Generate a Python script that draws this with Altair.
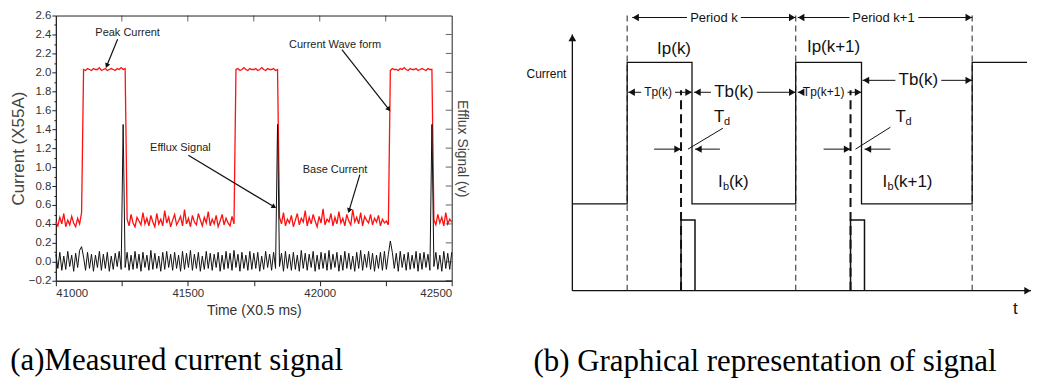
import math
import altair as alt
import pandas as pd

# ---------------- panel (a): measured signal ----------------
t_start = 41000
t_step = 7.5
red_current = [
    0.42, 0.38, 0.47, 0.40, 0.51, 0.37, 0.44, 0.39, 0.48, 0.41, 0.37, 0.46, 0.40, 0.52,
    2.03, 2.02, 2.04, 2.03, 2.02, 2.04, 2.03, 2.03, 2.05, 2.02, 2.03, 2.04, 2.02, 2.03,
    2.04, 2.03, 2.02, 2.04, 2.03, 2.05, 2.03, 2.04,
    0.45, 0.38, 0.50, 0.41, 0.37, 0.47, 0.43, 0.39, 0.52, 0.40,
    0.46, 0.38, 0.49, 0.42, 0.37, 0.51, 0.40, 0.45, 0.38, 0.54,
    0.41, 0.47, 0.37, 0.44, 0.50, 0.39, 0.43, 0.48, 0.38, 0.55,
    0.40, 0.46, 0.37, 0.49, 0.42, 0.39, 0.51, 0.44, 0.38, 0.47,
    0.41, 0.53, 0.38, 0.45, 0.40, 0.49, 0.37, 0.43, 0.50, 0.39,
    0.46, 0.41, 0.38, 0.48, 0.40,
    2.03, 2.04, 2.02, 2.03, 2.05, 2.03, 2.02, 2.04, 2.03, 2.03, 2.04,
    2.02, 2.03, 2.05, 2.03, 2.02, 2.04, 2.03, 2.03, 2.04, 2.02, 2.03,
    0.47, 0.40, 0.52, 0.38, 0.45, 0.41, 0.49, 0.37, 0.44, 0.51,
    0.39, 0.46, 0.42, 0.54, 0.38, 0.47, 0.40, 0.50, 0.43, 0.37,
    0.48, 0.41, 0.56, 0.39, 0.45, 0.42, 0.51, 0.38, 0.47, 0.40,
    0.53, 0.41, 0.46, 0.38, 0.50, 0.43, 0.39, 0.55, 0.42, 0.47,
    0.40, 0.52, 0.38, 0.48, 0.44, 0.41, 0.50, 0.39, 0.46, 0.42,
    0.49, 0.38, 0.45, 0.41, 0.43, 0.39,
    2.02, 2.04, 2.03, 2.03, 2.02, 2.04, 2.03, 2.05, 2.03, 2.02, 2.04,
    2.03, 2.03, 2.04, 2.02, 2.03, 2.04, 2.03, 2.02, 2.04, 2.03, 2.03,
    0.44, 0.39, 0.50, 0.41, 0.47, 0.38, 0.52, 0.40, 0.45, 0.42,
]
black_efflux = [
    0.08, -0.07, 0.10, -0.09, 0.06, -0.08, 0.11, -0.05, 0.07, -0.10, 0.09, -0.06, 0.12, 0.16, 0.05, -0.09, 0.10, -0.07, 0.08, -0.10,
    0.07, -0.06, 0.11, -0.09, 0.08, -0.07, 0.10, -0.10, 0.06, -0.08, 0.09, -0.05, 0.11, -0.08, 1.45, -0.06, 0.10, -0.09, 0.07, -0.08,
    0.11, -0.07, 0.08, -0.10, 0.10, -0.06, 0.07, -0.09, 0.12, -0.08, 0.09, -0.07, 0.06, -0.10, 0.10, -0.08, 0.11, -0.06, 0.08, -0.09,
    0.10, -0.07, 0.07, -0.10, 0.11, -0.08, 0.09, -0.06, 0.12, -0.09, 0.08, -0.07, 0.10, -0.10, 0.06, -0.08, 0.11, -0.07, 0.09, -0.09,
    0.08, -0.06, 0.10, -0.10, 0.07, -0.08, 0.11, -0.07, 0.09, -0.09, 0.12, -0.06, 0.08, -0.10, 0.10, -0.07, 0.07, -0.09, 0.11, -0.08,
    0.09, -0.07, 0.10, -0.10, 0.06, -0.08, 0.11, -0.06, 0.08, -0.09, 0.10, -0.07, 1.45, -0.05, 0.09, -0.10, 0.11, -0.07, 0.08, -0.09,
    0.10, -0.08, 0.07, -0.10, 0.12, -0.07, 0.09, -0.09, 0.08, -0.06, 0.11, -0.10, 0.07, -0.08, 0.10, -0.07, 0.09, -0.09, 0.12, -0.08,
    0.08, -0.06, 0.10, -0.10, 0.07, -0.09, 0.11, -0.07, 0.09, -0.08, 0.06, -0.10, 0.10, -0.07, 0.12, -0.09, 0.08, -0.06, 0.11, -0.08,
    0.09, -0.10, 0.07, -0.07, 0.10, -0.09, 0.11, -0.08, 0.08, 0.22, 0.10, -0.07, 0.09, -0.10, 0.11, -0.06, 0.08, -0.09, 0.10, -0.08,
    0.07, -0.07, 0.11, -0.10, 0.09, -0.08, 0.10, -0.06, 0.08, -0.09, 1.45, -0.05, 0.10, -0.08, 0.07, -0.10, 0.11, -0.07, 0.09, -0.08,
    0.10,
]
time = [t_start + t_step * i for i in range(len(red_current))]

x_ticks = [41000, 41250, 41500, 41750, 42000, 42250, 42500]
top_ticks = [41250, 41500, 41750, 42000, 42250]
y_ticks = [-0.2, -0.1, 0.0, 0.1, 0.2, 0.3, 0.4, 0.5, 0.6, 0.7, 0.8, 0.9, 1.0, 1.1, 1.2,
           1.3, 1.4, 1.5, 1.6, 1.7, 1.8, 1.9, 2.0, 2.1, 2.2, 2.3, 2.4, 2.5, 2.6]
right_ticks = [-0.2, 0.0, 0.2, 0.4, 0.6, 0.8, 1.0, 1.2, 1.4, 1.6, 1.8, 2.0, 2.2, 2.4]

ann_labels = ["Peak Current", "Efflux Signal", "Current Wave form", "Base Current"]
ann_time = [41272, 41472, 42058, 42058]
ann_value = [2.42, 1.20, 2.29, 0.97]
arrow_t0 = [41234, 41502, 42084, 42152]
arrow_v0 = [2.35, 1.126, 2.24, 0.92]
arrow_t1 = [41193, 41827, 42262, 42111]
arrow_v1 = [2.07, 0.58, 1.61, 0.54]

W_A, H_A = 397, 266
X_DOM = [41000, 42500]
Y_DOM = [-0.2, 2.6]
FONT = "Liberation Sans"
SERIF = "Liberation Serif"

df_a = pd.DataFrame({"time": time, "current": red_current, "efflux": black_efflux})
xs = alt.Scale(domain=X_DOM, nice=False, zero=False)
ys = alt.Scale(domain=Y_DOM, nice=False, zero=False)

x_axis = alt.Axis(values=x_ticks, title="Time (X0.5 ms)", grid=False,
                  labelExpr="datum.value % 500 == 0 ? format(datum.value, 'd') : ''",
                  labelFont=FONT, labelFontSize=11.5, labelColor="#333", labelPadding=2,
                  titleFont=FONT, titleFontSize=14, titleFontWeight="normal", titleColor="#333",
                  titlePadding=4, tickSize=5, tickColor="#222", domainColor="#222")
y_axis = alt.Axis(values=y_ticks, title="Current (X55A)", grid=False,
                  labelExpr="abs(round(datum.value * 10)) % 2 == 0 ? format(datum.value, '.1f') : ''",
                  labelFont=FONT, labelFontSize=11.5, labelColor="#333", labelPadding=1,
                  titleFont=FONT, titleFontSize=17, titleFontWeight="normal", titleColor="#444",
                  titlePadding=1, tickColor="#222", domainColor="#222",
                  tickSize={"condition": {"test": "abs(round(datum.value * 10)) % 2 == 0", "value": 4}, "value": 2})

red = alt.Chart(df_a).mark_line(color="#ff1010", strokeWidth=1.3).encode(
    x=alt.X("time:Q", scale=xs, axis=x_axis),
    y=alt.Y("current:Q", scale=ys, axis=y_axis),
)
black = alt.Chart(df_a).mark_line(color="#111", strokeWidth=1).encode(
    x=alt.X("time:Q", scale=xs, axis=None),
    y=alt.Y("efflux:Q", scale=ys, axis=None),
)
right_tick_layer = alt.Chart(pd.DataFrame({"v": right_ticks})).mark_tick(
    orient="horizontal", size=6, thickness=1, xOffset=-3, color="#222").encode(
    x=alt.X(datum=X_DOM[1], scale=xs, axis=None),
    y=alt.Y("v:Q", scale=ys, axis=alt.Axis(orient="right", title="Efflux Signal (v)", labels=False,
                                           ticks=False, domain=False, grid=False, titleFont=FONT,
                                           titleFontSize=14, titleFontWeight="normal", titleColor="#444",
                                           titlePadding=3)),
)
top_tick_layer = alt.Chart(pd.DataFrame({"t": top_ticks})).mark_tick(
    orient="vertical", size=6, thickness=1, yOffset=3, color="#222").encode(
    x=alt.X("t:Q", scale=xs, axis=None),
    y=alt.Y(datum=Y_DOM[1], scale=ys, axis=None),
)

px_x = W_A / (X_DOM[1] - X_DOM[0])
px_y = H_A / (Y_DOM[1] - Y_DOM[0])
angles = [math.degrees(math.atan2((b - a) * px_x, (d - c) * px_y)) % 360
          for a, b, c, d in zip(arrow_t0, arrow_t1, arrow_v0, arrow_v1)]
df_arrow = pd.DataFrame({"t0": arrow_t0, "v0": arrow_v0, "t1": arrow_t1, "v1": arrow_v1, "ang": angles})
df_ann = pd.DataFrame({"label": ann_labels, "t": ann_time, "v": ann_value})

ann_text = alt.Chart(df_ann).mark_text(font=FONT, fontSize=11, color="#222").encode(
    x=alt.X("t:Q", scale=xs, axis=None), y=alt.Y("v:Q", scale=ys, axis=None), text="label:N")
ann_line = alt.Chart(df_arrow).mark_rule(color="#111", strokeWidth=1.2).encode(
    x=alt.X("t0:Q", scale=xs, axis=None), y=alt.Y("v0:Q", scale=ys, axis=None),
    x2="t1:Q", y2="v1:Q")
ann_head = alt.Chart(df_arrow).mark_point(shape="triangle-up", filled=True, size=30, color="#111", opacity=1).encode(
    x=alt.X("t1:Q", scale=xs, axis=None), y=alt.Y("v1:Q", scale=ys, axis=None),
    angle=alt.Angle("ang:Q", scale=None))

panel_a = alt.layer(red, black, right_tick_layer, top_tick_layer, ann_line, ann_head, ann_text).resolve_axis(
    x="independent", y="independent").properties(
    width=W_A, height=H_A,
    view=alt.ViewBackground(stroke="#222", strokeWidth=1),
    title=alt.TitleParams("(a)Measured current signal", orient="bottom", anchor="start", frame="bounds",
                          font=SERIF, fontSize=31, fontWeight="normal", color="black",
                          offset=29, dx=1),
)

# ---------------- panel (b): schematic of the signal ----------------
wave_t = [0, 55, 55, 120, 120, 224, 224, 290, 290, 401, 401, 456]
wave_i = [87, 87, 229, 229, 87, 87, 229, 229, 87, 87, 229, 229]
period_edges = [55, 224, 401]
period_top = 280
efflux_t = [109, 279]
efflux_top = 201
pulse_id = [1, 1, 1, 1, 2, 2, 2, 2]
pulse_t = [109, 109, 123, 123, 279, 279, 293, 293]
pulse_i = [0, 71, 71, 0, 0, 71, 71, 0]

# axes of the schematic
axis_x0 = [0, 0]
axis_y0 = [0, 0]
axis_x1 = [0, 460]
axis_y1 = [257, 0]

# dimension lines (horizontal arrows, Td pointers)
seg_x0 = [60, 169, 226, 347, 56, 103, 122, 185, 226, 276, 291, 370, 82, 123, 252, 293, 151, 319]
seg_x1 = [115, 224, 278, 401, 69, 120, 139, 224, 229, 290, 324, 401, 109, 148, 279, 319, 116, 284]
seg_y0 = [274, 274, 274, 274, 199, 199, 199, 199, 199, 199, 211, 211, 142, 142, 142, 142, 163, 164]
seg_y1 = [274, 274, 274, 274, 199, 199, 199, 199, 199, 199, 211, 211, 142, 142, 142, 142, 142, 142]
head_right_t = [224, 401, 120, 224, 290, 401, 109, 279, 460]
head_right_i = [274, 274, 199, 199, 199, 211, 142, 142, 0]
head_left_t = [60, 226, 56, 122, 226, 291, 123, 293]
head_left_i = [274, 274, 199, 199, 199, 211, 142, 142]

big_labels = ["Ip(k)", "Ip(k+1)", "Tb(k)", "Tb(k)"]
big_t = [102, 262, 162, 347]
big_i = [242, 244, 199, 211]
mid_labels = ["Period k", "Period k+1"]
mid_t = [142, 312]
mid_i = [274, 274]
small_labels = ["Tp(k)", "Tp(k+1)", "Current"]
small_t = [86, 252, -26]
small_i = [199, 199, 217]
# composite labels: I_b(k), I_b(k+1), T_d, T_d  (main part / subscript / tail)
main_labels = ["I", "(k)", "I", "(k+1)", "T", "T", "t"]
main_t = [146, 157, 311, 322, 142, 324, 442]
main_i = [109, 109, 109, 109, 174, 174, -18]
sub_labels = ["b", "b", "d", "d"]
sub_t = [151, 316, 152, 334]
sub_i = [104, 104, 169, 169]

W_B, H_B = 462, 276
xr = alt.Scale(domain=[0, W_B], nice=False, zero=False)
yr = alt.Scale(domain=[0, H_B], nice=False, zero=False)


def XB(f):
    return alt.X(f, type="quantitative", scale=xr, axis=None)


def YB(f):
    return alt.Y(f, type="quantitative", scale=yr, axis=None)


df_period = pd.DataFrame({"t": period_edges, "lo": [0] * len(period_edges), "hi": [period_top] * len(period_edges)})
df_eff = pd.DataFrame({"t": efflux_t, "lo": [0] * len(efflux_t), "hi": [efflux_top] * len(efflux_t)})
df_wave = pd.DataFrame({"t": wave_t, "i": wave_i, "o": list(range(len(wave_t)))})
df_pulse = pd.DataFrame({"p": pulse_id, "t": pulse_t, "i": pulse_i, "o": list(range(len(pulse_t)))})
df_axes = pd.DataFrame({"x0": axis_x0, "y0": axis_y0, "x1": axis_x1, "y1": axis_y1})
df_seg = pd.DataFrame({"x0": seg_x0, "x1": seg_x1, "y0": seg_y0, "y1": seg_y1})

l_period = alt.Chart(df_period).mark_rule(color="#555", strokeDash=[6, 4], strokeWidth=1.3).encode(
    x=XB("t"), y=YB("lo"), y2="hi")
l_eff = alt.Chart(df_eff).mark_rule(color="#111", strokeDash=[9, 5], strokeWidth=2).encode(
    x=XB("t"), y=YB("lo"), y2="hi")
l_wave = alt.Chart(df_wave).mark_line(color="#111", strokeWidth=1.3).encode(
    x=XB("t"), y=YB("i"), order="o:Q")
l_pulse = alt.Chart(df_pulse).mark_line(color="#111", strokeWidth=1.5).encode(
    x=XB("t"), y=YB("i"), detail="p:N", order="o:Q")
l_axes = alt.Chart(df_axes).mark_rule(color="#111", strokeWidth=1.3).encode(
    x=XB("x0"), y=YB("y0"), x2="x1", y2="y1")
l_seg = alt.Chart(df_seg).mark_rule(color="#111", strokeWidth=1).encode(
    x=XB("x0"), y=YB("y0"), x2="x1", y2="y1")
l_hr = alt.Chart(pd.DataFrame({"t": head_right_t, "i": head_right_i})).mark_point(
    shape="triangle-right", filled=True, size=55, color="#111", opacity=1, xOffset=-3.5).encode(
    x=XB("t"), y=YB("i"))
l_hl = alt.Chart(pd.DataFrame({"t": head_left_t, "i": head_left_i})).mark_point(
    shape="triangle-left", filled=True, size=55, color="#111", opacity=1, xOffset=3.5).encode(
    x=XB("t"), y=YB("i"))
l_hup = alt.Chart(pd.DataFrame({"t": [axis_x1[0]], "i": [axis_y1[0]]})).mark_point(
    shape="triangle-up", filled=True, size=60, color="#111", opacity=1, yOffset=3.5).encode(
    x=XB("t"), y=YB("i"))

l_big = alt.Chart(pd.DataFrame({"s": big_labels, "t": big_t, "i": big_i})).mark_text(
    font=FONT, fontSize=17, color="#111", baseline="middle").encode(x=XB("t"), y=YB("i"), text="s:N")
l_mid = alt.Chart(pd.DataFrame({"s": mid_labels, "t": mid_t, "i": mid_i})).mark_text(
    font=FONT, fontSize=13, color="#111", baseline="middle").encode(x=XB("t"), y=YB("i"), text="s:N")
l_small = alt.Chart(pd.DataFrame({"s": small_labels, "t": small_t, "i": small_i})).mark_text(
    font=FONT, fontSize=12, color="#111", baseline="middle").encode(x=XB("t"), y=YB("i"), text="s:N")
l_main = alt.Chart(pd.DataFrame({"s": main_labels, "t": main_t, "i": main_i})).mark_text(
    font=FONT, fontSize=17, color="#111", baseline="middle", align="left").encode(x=XB("t"), y=YB("i"), text="s:N")
l_sub = alt.Chart(pd.DataFrame({"s": sub_labels, "t": sub_t, "i": sub_i})).mark_text(
    font=FONT, fontSize=11, color="#111", baseline="middle", align="left").encode(x=XB("t"), y=YB("i"), text="s:N")

panel_b = alt.layer(l_period, l_eff, l_wave, l_pulse, l_axes, l_seg, l_hr, l_hl, l_hup,
                    l_big, l_mid, l_small, l_main, l_sub).properties(
    width=W_B, height=H_B,
    view=alt.ViewBackground(stroke="transparent"),
    title=alt.TitleParams("(b) Graphical representation of signal", orient="bottom", anchor="start",
                          frame="group", font=SERIF, fontSize=31, fontWeight="normal",
                          color="black", offset=31, dx=-39),
)

chart = alt.hconcat(panel_a, panel_b, spacing=121, bounds="flush").properties(
    padding={"left": 0, "top": 0, "right": 0, "bottom": 0},
).configure(background="white")

chart.save("out.html", embed_options={"renderer": "svg", "actions": False})
